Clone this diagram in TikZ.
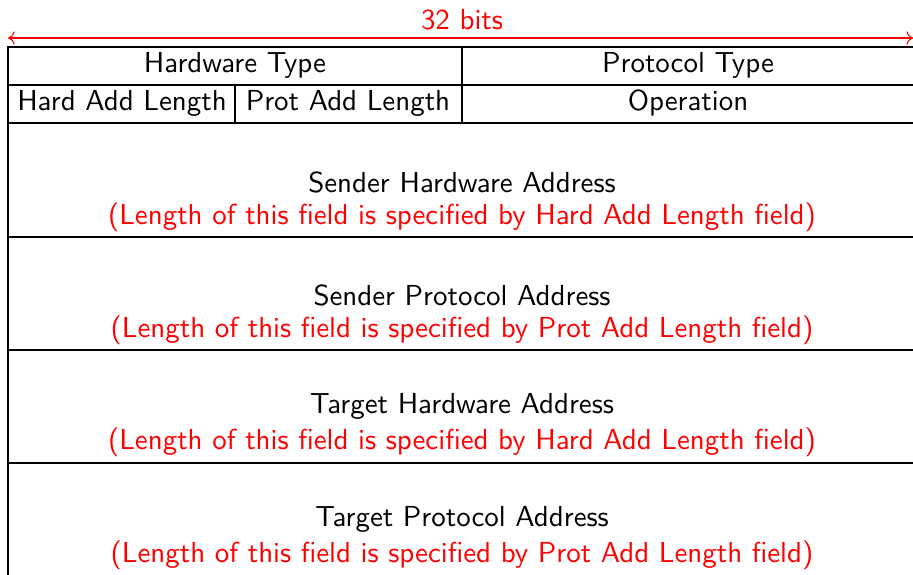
\documentclass[tikz,border=0pt]{standalone}
\usepackage{xcolor}
\usepackage{tikz}
\usetikzlibrary{arrows.meta}

\begin{document}
\begin{tikzpicture}[x=0.3456pt,y=-0.3456pt,scale=2.17,
  every node/.style={transform shape,font=\sffamily,inner sep=0.75pt},
  note/.style={text=red},
  field/.style={line width=1.3pt}]
\useasboundingbox (0,0) rectangle (913,574);

%Frame lines
\draw [field] (8,47) -- (916,47) ;
\draw [field] (8,85) -- (916,85) ;
\draw [field] (8,123) -- (916,123) ;
\draw [field] (8,237) -- (916,237) ;
\draw [field] (8,350) -- (916,350) ;
\draw [field] (8,463) -- (916,463) ;
\draw [field] (8,46.4) -- (8,580) ;
\draw [field] (914.5,46.4) -- (914.5,580) ;
\draw [field] (462,47) -- (462,123) ;
\draw [field] (235,85) -- (235,123) ;

%Width arrow
\coordinate (wl) at (8,38) ;
\coordinate (wr) at (913,38) ;
\draw [red,line width=0.8pt,{To[length=5pt,width=10pt]}-{To[length=5pt,width=10pt]}] (wl) -- (wr) ;

% Text Node
\node [note] (bits) at (462,20) {32 bits};
% Text Node
\node (hwtype) at (235,65) {Hardware Type};
\node (prtype) at (688,65) {Protocol Type};
% Text Node
\node (hwlen) at (122,103) {Hard Add Length};
\node (prlen) at (348,103) {Prot Add Length};
\node (oper) at (688,103) {Operation};
% Text Node
\node (sha) at (462,182) {Sender Hardware Address};
\node [note] (shanote) at (462,217) {(Length of this field is specified by Hard Add Length field)};
% Text Node
\node (spa) at (462,295) {Sender Protocol Address};
\node [note] (spanote) at (462,330) {(Length of this field is specified by Prot Add Length field)};
% Text Node
\node (tha) at (462,406) {Target Hardware Address};
\node [note] (thanote) at (462,442) {(Length of this field is specified by Hard Add Length field)};
% Text Node
\node (tpa) at (462,519) {Target Protocol Address};
\node [note] (tpanote) at (462,555) {(Length of this field is specified by Prot Add Length field)};
\end{tikzpicture}
\end{document}
